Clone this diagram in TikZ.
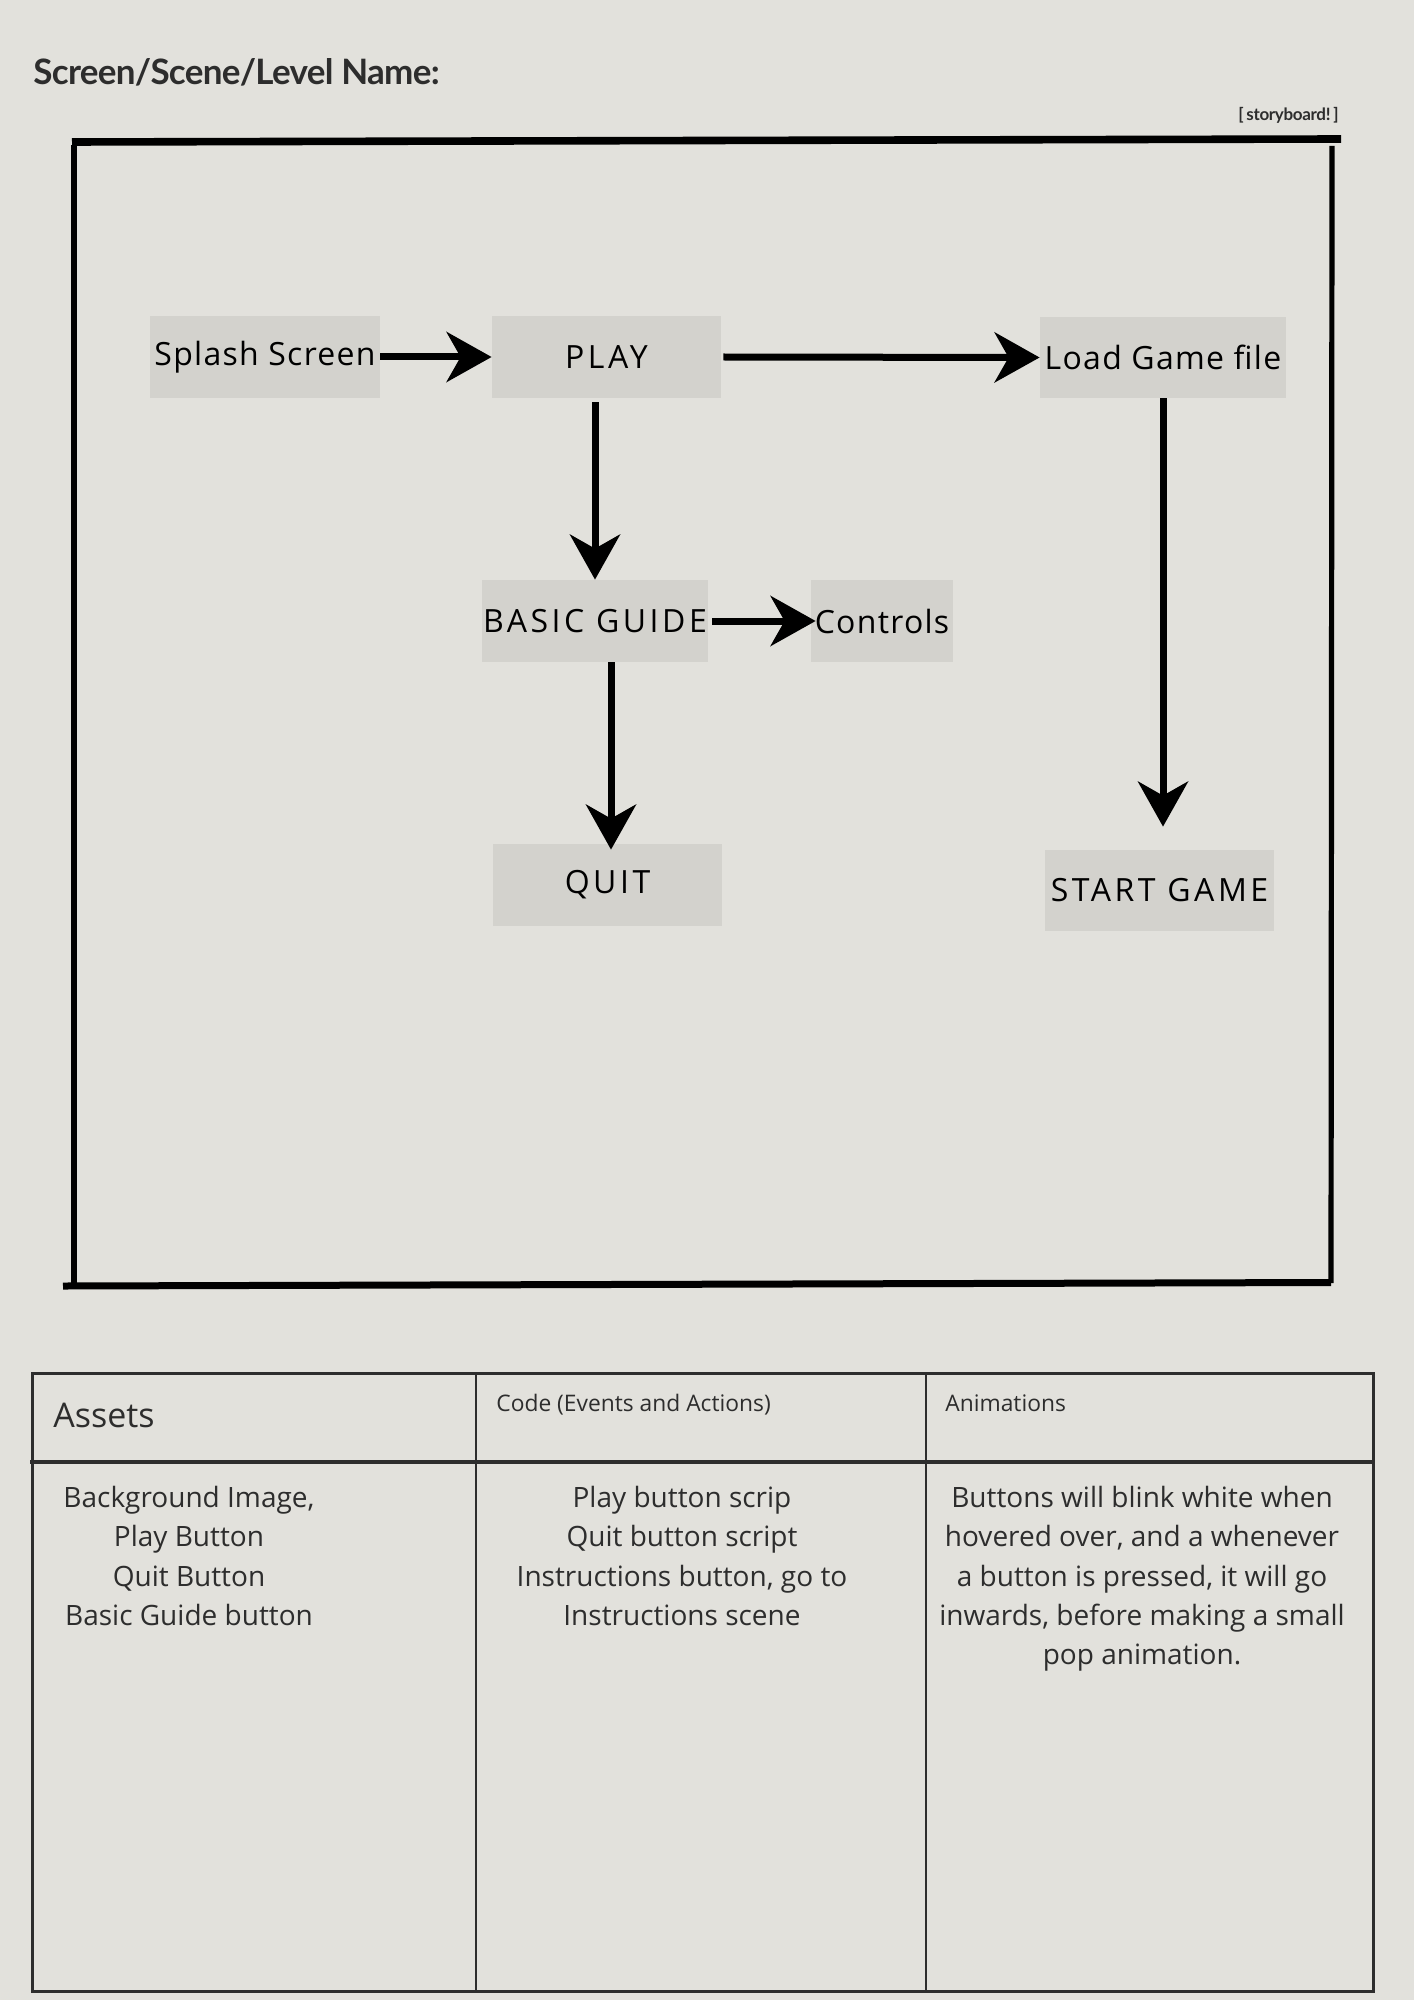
\documentclass[tikz,border=0pt]{standalone}
\usepackage{fontspec}
\setmainfont{Open Sans}
\newfontfamily\latofont[LetterSpace=-2]{Lato}
\newfontfamily\nodefont[LetterSpace=4]{Open Sans}
\newfontfamily\capsfont[LetterSpace=11]{Open Sans}
\usetikzlibrary{arrows.meta}
\definecolor{bg}{RGB}{226,225,220}
\definecolor{boxgray}{RGB}{211,210,205}
\definecolor{ink}{RGB}{45,45,45}
\begin{document}
\begin{tikzpicture}[x=0.5pt,y=-0.5pt,
  box/.style={fill=boxgray, inner sep=0pt, text=black, font=\nodefont\fontsize{16}{19}\selectfont},
  capsbox/.style={box, font=\capsfont\fontsize{16}{19}\selectfont},
  arr/.style={line width=3.5pt, -{Stealth[length=22.5pt,width=25pt,inset=7pt]}},
  frame/.style={line width=3pt, line cap=butt},
  grid/.style={draw=ink, line cap=rect},
  head/.style={text=ink, inner sep=0pt},
  body/.style={text=ink, inner sep=0pt, align=center, anchor=north, font=\fontsize{14}{19.6}\selectfont}]
\fill[bg] (0,0) rectangle (1414,2000);
\useasboundingbox (0,0) rectangle (1414,2000);

% title
\node[head, anchor=base west, font=\latofont\bfseries\fontsize{17.5}{20}\selectfont] (title) at (33,85) {Screen/Scene/Level Name:};
\node[head, anchor=base east, font=\latofont\bfseries\fontsize{8.5}{10}\selectfont] (sb) at (1339,121) {[\,storyboard!\,]};

% storyboard frame
\draw[frame, line width=3.8pt] (72,142) -- (1341,139);
\draw[frame] (74,145) -- (74,1284);
\draw[frame, line width=2.6pt] (1332,146) -- (1331,1283);
\draw[frame, line width=3.5pt] (63,1286) -- (1331,1282.5);

% nodes
\node[box, minimum width=115pt, minimum height=41pt] (splash) at (265,357) {Splash Screen};
\node[capsbox, minimum width=114.5pt, minimum height=41pt] (play) at (606.5,357) {PLAY};
\node[box, minimum width=123pt, minimum height=40.5pt] (load) at (1163,357.5) {Load Game file};
\node[capsbox, minimum width=113pt, minimum height=41pt] (guide) at (595,621) {BASIC GUIDE};
\node[box, minimum width=71pt, minimum height=41pt] (controls) at (882,621) {Controls};
\node[capsbox, minimum width=114.5pt, minimum height=41pt] (quit) at (607.5,885) {QUIT};
\node[capsbox, minimum width=114.5pt, minimum height=40.5pt] (start) at (1159.5,890.5) {START GAME};

% connectors
\draw[arr] (splash.east) -- (play.west);
\draw[arr] ([xshift=1pt]play.east) -- (load.west);
\draw[arr, shorten <=2pt] (play.south -| guide.north) -- (guide.north);
\draw[arr] ([xshift=2pt]guide.east) -- ([xshift=2.5pt]controls.west);
\draw[arr, shorten >=-3pt] ([xshift=8pt]guide.south) -- ([xshift=8pt]guide.south |- quit.north);
\draw[arr, shorten >=11.5pt] (load.south) -- (load.south |- start.north);

% table
\draw[grid, line width=1.5pt] (32,1373) rectangle (1373,1991);
\draw[grid, line width=1.7pt] (32,1462) -- (1373,1462);
\draw[grid, line width=1.1pt] (476,1373) -- (476,1991);
\draw[grid, line width=1.1pt] (926,1373) -- (926,1991);

\node[head, anchor=base west, font=\fontsize{17}{20}\selectfont] (assets) at (53,1427) {Assets};
\node[head, anchor=base west, font=\fontsize{11.4}{13}\selectfont] (code) at (496,1411) {Code (Events and Actions)};
\node[head, anchor=base west, font=\fontsize{11.4}{13}\selectfont] (anim) at (945,1411) {Animations};

\node[body] (assetlist) at (189,1486) {Background Image,\\Play Button\\Quit Button\\Basic Guide button};
\node[body] (codelist) at (682,1486) {Play button scrip\\Quit button script\\Instructions button, go to\\Instructions scene};
\node[body] (animlist) at (1142,1486) {Buttons will blink white when\\hovered over, and a whenever\\a button is pressed, it will go\\inwards, before making a small\\pop animation.};
\end{tikzpicture}
\end{document}
